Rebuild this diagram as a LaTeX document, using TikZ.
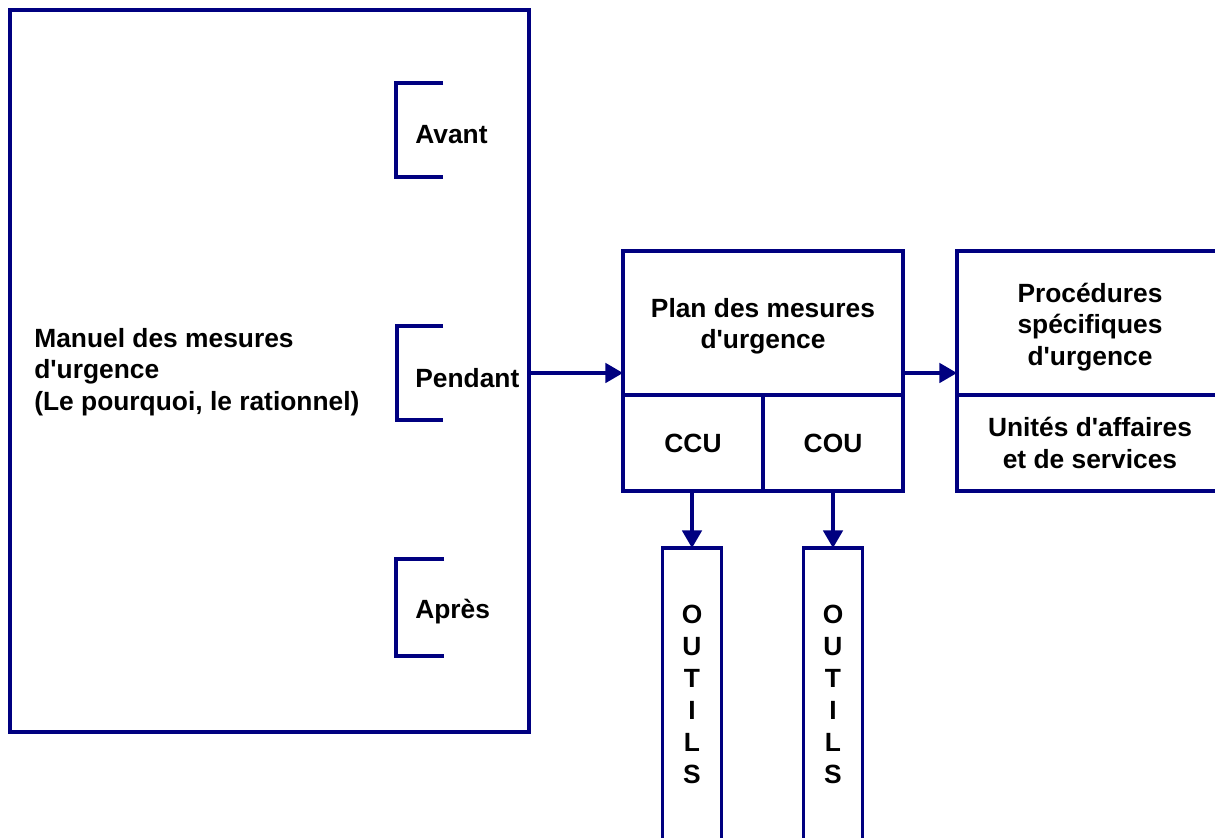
\documentclass[tikz,border=0pt]{standalone}
\usepackage{fontspec}
\newfontfamily\diagfont{Liberation Sans}
\usetikzlibrary{arrows.meta}
\definecolor{navy}{RGB}{0,0,128}
\tikzset{
  box/.style={draw=navy, line width=2pt, inner sep=0pt, outer sep=0pt, align=center},
  lbl/.style={inner sep=0pt, align=left},
  arr/.style={draw=navy, line width=2pt, -{Triangle[length=10pt,width=11pt]}},
  brk/.style={draw=navy, line width=1.8pt}
}
\begin{document}
\begin{tikzpicture}[x=0.02cm, y=-0.02cm,
    every node/.style={font=\diagfont\bfseries\fontsize{15}{17.8}\selectfont}]
  \useasboundingbox (0,0) rectangle (1215,838);
  % manuel
  \node [box, minimum width=10.38cm, minimum height=14.44cm] (manuel) at (269.5,371) {};
  \node [lbl, anchor=west] (titre) at (34,372) {Manuel des mesures\\d'urgence\\(Le pourquoi, le rationnel)};
  % phases
  \node [lbl, anchor=west] (avant) at (415,135) {Avant};
  \node [lbl, anchor=west] (pendant) at (415,378) {Pendant};
  \node [lbl, anchor=west] (apres) at (415,612) {Après};
  \draw [brk] (443,83) -- (396,83) -- (396,177) -- (443,177);
  \draw [brk] (443,326) -- (397,326) -- (397,420) -- (443,420);
  \draw [brk] (444,559) -- (396,559) -- (396,656) -- (444,656);
  % plan
  \node [box, minimum width=5.6cm, minimum height=2.88cm] (plan) at (763,323) {};
  \node (plantxt) at (763,326) [align=center] {Plan des mesures\\d'urgence};
  \node [box, minimum width=2.8cm, minimum height=1.92cm] (ccu) at (693,443) {CCU};
  \node [box, minimum width=2.8cm, minimum height=1.92cm] (cou) at (833,443) {COU};
  % procedures
  \node [box, minimum width=5.32cm, minimum height=2.88cm] (proc) at (1090,323) {};
  \node (proctxt) at (1090,327) [align=center] {Procédures\\spécifiques\\d'urgence};
  \node [box, minimum width=5.32cm, minimum height=1.92cm] (unites) at (1090,443) {Unités d'affaires\\et de services};
  % outils
  \node [box, minimum width=1.18cm, minimum height=5.84cm, font=\diagfont\bfseries\fontsize{15}{18.2}\selectfont] (outilsA) at (692,694) {O\\U\\T\\I\\L\\S};
  \node [box, minimum width=1.18cm, minimum height=5.84cm, font=\diagfont\bfseries\fontsize{15}{18.2}\selectfont] (outilsB) at (833,694) {O\\U\\T\\I\\L\\S};
  \draw [arr] ([yshift=-1cm]plan.west -| manuel.east) -- ([yshift=-1cm]plan.west);
  \draw [arr] ([yshift=-1cm]plan.east) -- ([yshift=-1cm]proc.west);
  \draw [arr] (ccu.south -| outilsA.north) -- (outilsA.north);
  \draw [arr] (cou.south -| outilsB.north) -- (outilsB.north);
\end{tikzpicture}
\end{document}
